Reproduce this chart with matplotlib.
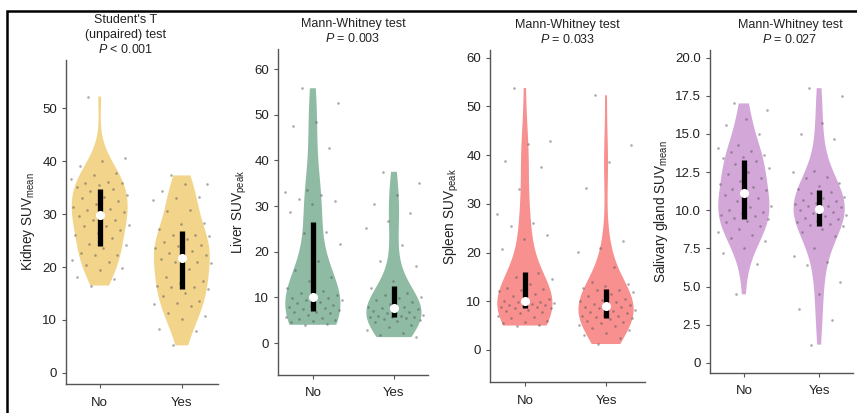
import matplotlib
matplotlib.use("Agg")
import matplotlib.pyplot as plt
import numpy as np
from matplotlib.patches import Rectangle
from matplotlib.ticker import FuncFormatter

plt.rcParams['font.family'] = ['Liberation Sans', 'DejaVu Sans']
plt.rcParams['mathtext.fontset'] = 'custom'
plt.rcParams['mathtext.rm'] = 'Liberation Sans'
plt.rcParams['mathtext.it'] = 'Liberation Sans:italic'

GROUPS = ['No', 'Yes']

# Kidney SUVmean
kidney_no = [52.2, 40.6, 40.1, 39.0, 37.7, 37.3, 36.7, 36.0, 35.8, 35.8, 35.5, 35.2,
             34.8, 34.3, 33.6, 33.3, 33.0, 32.5, 31.9, 31.4, 30.9, 30.8, 30.4, 29.9,
             29.6, 28.9, 28.9, 28.0, 27.8, 27.7, 26.9, 26.5, 26.1, 25.5, 24.4, 24.2,
             23.6, 22.6, 22.3, 22.3, 21.4, 20.9, 20.3, 19.8, 19.5, 18.2, 17.7, 16.5]
kidney_yes = [37.3, 35.7, 35.7, 34.3, 33.3, 33.0, 32.7, 30.7, 30.6, 28.3, 28.2, 27.2,
              26.1, 26.1, 25.8, 25.2, 24.7, 24.2, 24.0, 23.6, 23.0, 22.6, 22.2, 21.9,
              21.5, 20.9, 20.9, 20.8, 19.6, 18.2, 17.3, 17.0, 16.5, 16.2, 16.2, 15.9,
              15.1, 14.5, 13.5, 13.2, 13.1, 12.7, 11.4, 10.7, 10.1, 8.2, 7.9, 5.2]

# Liver SUVpeak
liver_no = [55.8, 52.5, 48.5, 47.5, 42.8, 33.5, 33.0, 32.5, 31.5, 31.0, 30.5, 28.7,
            24.4, 24.0, 21.8, 18.0, 16.0, 14.5, 13.5, 12.1, 11.4, 11.0, 10.5, 10.3,
            9.9, 9.8, 9.5, 9.4, 9.0, 8.7, 8.3, 8.1, 7.9, 7.7, 7.4, 7.2,
            6.8, 6.8, 6.5, 6.1, 5.8, 5.4, 5.2, 5.0, 4.8, 4.5, 4.2, 4.0]
liver_yes = [37.5, 35.0, 32.5, 30.5, 28.5, 26.8, 25.2, 21.5, 18.0, 16.8, 13.5,
             12.0, 11.0, 10.5, 10.0, 9.8, 9.5, 9.0, 8.5, 8.0, 7.8, 7.6,
             7.4, 7.2, 7.0, 6.8, 6.5, 6.2, 6.0, 5.9, 5.8, 5.7, 5.6,
             5.4, 5.2, 5.0, 4.8, 4.5, 4.0, 3.5, 2.8, 2.2, 1.8, 1.3]

# Spleen SUVpeak
spleen_no = [53.8, 43.0, 42.2, 38.8, 37.5, 33.0, 28.0, 26.0, 25.5, 23.5, 22.7, 20.8,
             15.8, 15.0, 14.5, 13.5, 12.8, 12.5, 12.2, 12.0, 11.5, 11.0, 10.5, 10.2,
             10.0, 9.9, 9.8, 9.6, 9.5, 9.3, 9.2, 9.0, 8.9, 8.8, 8.7, 8.6,
             8.2, 8.0, 7.8, 7.5, 7.0, 6.8, 6.5, 6.0, 5.8, 5.5, 5.2, 5.0]
spleen_yes = [52.3, 42.0, 38.5, 33.3, 22.4, 21.0, 20.2, 17.0, 14.0, 13.5, 13.2, 12.8,
              12.4, 12.2, 11.8, 11.5, 11.0, 10.5, 10.2, 10.0, 9.8, 9.5, 9.2, 9.1,
              8.9, 8.8, 8.5, 8.2, 8.0, 7.8, 7.5, 7.2, 7.0, 6.9, 6.8, 6.6,
              6.3, 6.0, 5.7, 5.5, 5.2, 5.0, 4.5, 4.0, 3.5, 3.0, 2.5, 1.2]

# Salivary gland SUVmean
saliv_no = [17.0, 16.6, 16.0, 15.6, 15.0, 14.3, 14.1, 13.9, 13.8, 13.6, 13.5, 13.4,
            13.2, 13.0, 12.8, 12.5, 12.4, 12.1, 11.9, 11.7, 11.5, 11.4, 11.3, 11.2,
            11.0, 10.8, 10.6, 10.3, 10.2, 10.0, 9.9, 9.8, 9.7, 9.6, 9.5, 9.45,
            9.3, 9.2, 9.0, 8.8, 8.6, 8.4, 8.2, 8.0, 7.5, 7.2, 6.5, 4.5]
saliv_yes = [18.0, 17.5, 15.7, 15.0, 14.7, 12.6, 12.5, 12.2, 12.1, 11.8, 11.6, 11.4,
             11.2, 11.1, 10.9, 10.8, 10.7, 10.6, 10.5, 10.4, 10.3, 10.25, 10.2, 10.15,
             10.0, 9.9, 9.8, 9.7, 9.6, 9.5, 9.4, 9.3, 9.2, 9.1, 9.05, 9.0,
             8.8, 8.6, 8.3, 7.5, 7.0, 6.6, 6.4, 5.3, 4.5, 3.5, 2.8, 1.2]

# box stats: (q1, median, q3) for No / Yes
kidney_box = [(24.0, 29.8, 34.8), (15.8, 21.7, 26.8)]
liver_box = [(7.0, 10.0, 26.5), (5.6, 7.6, 12.5)]
spleen_box = [(8.6, 10.1, 16.0), (6.6, 9.0, 12.6)]
saliv_box = [(9.4, 11.1, 13.3), (9.0, 10.1, 11.3)]

titles = ["Student's T\n(unpaired) test\n$P$ < 0.001",
          "Mann-Whitney test\n$P$ = 0.003",
          "Mann-Whitney test\n$P$ = 0.033",
          "Mann-Whitney test\n$P$ = 0.027"]
ylabels = ["Kidney SUV$_{\\mathrm{mean}}$", "Liver SUV$_{\\mathrm{peak}}$",
           "Spleen SUV$_{\\mathrm{peak}}$", "Salivary gland SUV$_{\\mathrm{mean}}$"]
colors = ['#F2D58B', '#8FBBA4', '#F7908E', '#D4A7D9']

panels = [
    dict(data=[kidney_no, kidney_yes], box=kidney_box, px=(66, 218, 60, 384),
         ylim=(-2.1, 59.1), xlim=(-0.41, 1.44), step=10, top=50, tx=0.39),
    dict(data=[liver_no, liver_yes], box=liver_box, px=(278, 428, 49, 375),
         ylim=(-7.0, 64.4), xlim=(-0.43, 1.42), step=10, top=60, tx=0.5),
    dict(data=[spleen_no, spleen_yes], box=spleen_box, px=(490, 645, 50, 382),
         ylim=(-6.6, 61.6), xlim=(-0.43, 1.48), step=10, top=60, tx=0.5),
    dict(data=[saliv_no, saliv_yes], box=saliv_box, px=(710, 853, 50, 373),
         ylim=(-0.66, 20.5), xlim=(-0.45, 1.45), step=2.5, top=20, tx=0.56),
]

W, H = 857, 413
fig = plt.figure(figsize=(W / 100, H / 100), dpi=100)

def jitter(n, width=0.36):
    # low-discrepancy spread so the strip looks scattered
    return ((np.arange(n) * 0.6180339887 + 0.31) % 1.0 - 0.5) * 2 * width

for i, p in enumerate(panels):
    l, r, t, b = p['px']
    ax = fig.add_axes([l / W, 1 - b / H, (r - l) / W, (b - t) / H])
    vp = ax.violinplot(p['data'], positions=[0, 1], widths=0.68,
                       showextrema=False, showmedians=False, bw_method=0.5)
    for body in vp['bodies']:
        body.set_facecolor(colors[i])
        body.set_edgecolor('none')
        body.set_alpha(1)
    for k, vals in enumerate(p['data']):
        vals = np.asarray(vals)
        ax.scatter(k + jitter(len(vals)), vals, s=3.5, color='#555555',
                   alpha=0.5, linewidths=0, zorder=3)
        q1, med, q3 = p['box'][k]
        ax.plot([k, k], [q1, q3], color='black', lw=3.8,
                solid_capstyle='butt', zorder=4)
        ax.plot(k, med, 'o', color='white', ms=5.5, mec='white', zorder=5)

    ax.set_xlim(*p['xlim'])
    ax.set_ylim(*p['ylim'])
    ax.set_xticks([0, 1])
    ax.set_xticklabels(GROUPS)
    ax.set_yticks(np.arange(0, p['top'] + 0.01, p['step']))
    if p['step'] == 2.5:
        ax.yaxis.set_major_formatter(FuncFormatter(
            lambda v, pos: '0' if v == 0 else f'{v:.1f}'))
    else:
        ax.yaxis.set_major_formatter(FuncFormatter(lambda v, pos: f'{v:.0f}'))
    for s in ['top', 'right']:
        ax.spines[s].set_visible(False)
    for s in ['left', 'bottom']:
        ax.spines[s].set_color('#555555')
        ax.spines[s].set_linewidth(1.0)
    ax.tick_params(axis='both', colors='#555555', labelcolor='#222222',
                   labelsize=9.5, length=3, width=0.8)
    ax.tick_params(axis='x', pad=6)
    ax.set_ylabel(ylabels[i], fontsize=9.8, color='#222222', labelpad=4)
    ax.text(p['tx'], 1.012, titles[i], transform=ax.transAxes, ha='center',
            va='bottom', fontsize=9, color='#222222', linespacing=1.25)

fig.patches.append(Rectangle((7 / W, -0.05), 1.05, 1 - 11 / H + 0.05,
                             transform=fig.transFigure, fill=False,
                             edgecolor='black', linewidth=1.8))

fig.savefig('out.png', dpi=100)
